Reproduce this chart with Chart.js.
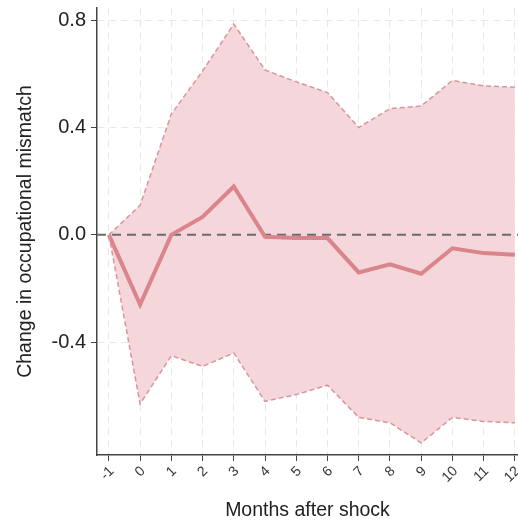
<!DOCTYPE html>
<html>
<head>
<meta charset="utf-8">
<script src="https://cdn.jsdelivr.net/npm/chart.js@4.4.0/dist/chart.umd.min.js"></script>
<style>
  html, body { margin: 0; padding: 0; background: #fff; }
  #wrap { width: 518px; height: 522px; }
</style>
</head>
<body>
<div id="wrap"><canvas id="chart"></canvas></div>
<script>
const months = [-1, 0, 1, 2, 3, 4, 5, 6, 7, 8, 9, 10, 11, 12];
const estimate = [0, -0.26, 0.0, 0.067, 0.18, -0.007, -0.012, -0.012, -0.14, -0.11, -0.145, -0.05, -0.068, -0.074];
const upper = [0, 0.11, 0.45, 0.61, 0.785, 0.614, 0.57, 0.53, 0.40, 0.47, 0.48, 0.575, 0.555, 0.55];
const lower = [0, -0.63, -0.45, -0.49, -0.44, -0.62, -0.595, -0.56, -0.68, -0.70, -0.775, -0.68, -0.695, -0.70];
const yTicks = [-0.4, 0, 0.4, 0.8];

const pts = (arr) => arr.map((v, i) => ({ x: months[i], y: v }));

const zeroLine = {
  id: "zeroLine",
  beforeDatasetsDraw(chart) {
    const { ctx, chartArea, scales } = chart;
    const y = scales.y.getPixelForValue(0);
    ctx.save();
    ctx.strokeStyle = "#6b6b6b";
    ctx.lineWidth = 2;
    ctx.setLineDash([9, 6]);
    ctx.beginPath();
    ctx.moveTo(chartArea.left, y);
    ctx.lineTo(chartArea.right, y);
    ctx.stroke();
    ctx.restore();
  },
};

const font = "Arial, 'Liberation Sans', sans-serif";

new Chart(document.getElementById("chart").getContext("2d"), {
  type: "line",
  data: {
    datasets: [
      {
        label: "upper",
        data: pts(upper),
        borderColor: "#d9959c",
        borderWidth: 1.5,
        borderDash: [5, 3],
        backgroundColor: "#f5d6da",
        fill: "+1",
        pointRadius: 0,
        tension: 0,
      },
      {
        label: "lower",
        data: pts(lower),
        borderColor: "#d9959c",
        borderWidth: 1.5,
        borderDash: [5, 3],
        fill: false,
        pointRadius: 0,
        tension: 0,
      },
      {
        label: "estimate",
        data: pts(estimate),
        borderColor: "#d9858b",
        borderWidth: 4,
        fill: false,
        pointRadius: 0,
        tension: 0,
      },
    ],
  },
  options: {
    responsive: true,
    maintainAspectRatio: false,
    animation: false,
    layout: { padding: { top: 8, right: 0, left: 0, bottom: 0 } },
    plugins: {
      legend: { display: false },
      tooltip: { enabled: false },
      filler: { drawTime: "beforeDatasetsDraw" },
    },
    scales: {
      x: {
        type: "linear",
        min: -1.38,
        max: 12.1,
        afterBuildTicks: (s) => { s.ticks = months.map((m) => ({ value: m })); },
        afterFit: (s) => { s.height = 67; s.paddingLeft = 0; s.paddingRight = 0; },
        ticks: {
          minRotation: 45,
          maxRotation: 45,
          color: "#333",
          font: { family: font, size: 14 },
          padding: 2,
          labelOffset: 3,
          callback: (v) => String(v),
        },
        grid: { color: "#e8e8e8", lineWidth: 1, tickColor: "#444", tickLength: 6 },
        border: { color: "#444", width: 1.5, dash: [7, 5] },
        title: {
          display: true,
          text: "Months after shock",
          color: "#222",
          font: { family: font, size: 19.5 },
          padding: { top: 14, bottom: 0 },
        },
      },
      y: {
        min: -0.82,
        max: 0.845,
        afterBuildTicks: (s) => { s.ticks = yTicks.map((v) => ({ value: v })); },
        afterFit: (s) => { s.width = 97; s.paddingTop = 0; s.paddingBottom = 0; },
        ticks: {
          color: "#222",
          font: { family: font, size: 20 },
          padding: 5,
          callback: (v) => v.toFixed(1),
        },
        grid: { color: "#e8e8e8", lineWidth: 1, tickColor: "#444", tickLength: 6 },
        border: { color: "#444", width: 1.5, dash: [7, 5] },
        title: {
          display: true,
          text: "Change in occupational mismatch",
          color: "#222",
          font: { family: font, size: 19.5 },
          padding: { top: 14, bottom: 4 },
        },
      },
    },
  },
  plugins: [zeroLine],
});
</script>
</body>
</html>
